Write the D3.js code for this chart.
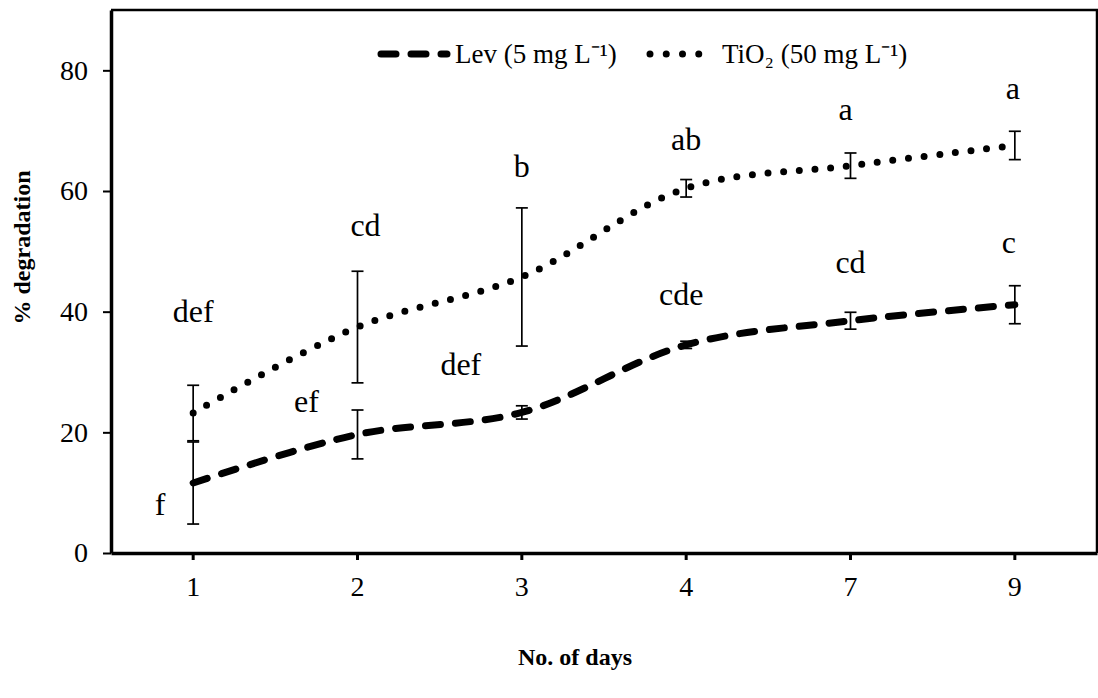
<!DOCTYPE html>
<html>
<head>
<meta charset="utf-8">
<script src="https://cdn.jsdelivr.net/npm/d3@7"></script>
<style>
  html, body { margin: 0; padding: 0; background: #fff; }
  svg { display: block; }
  text { font-family: "Liberation Serif", "Times New Roman", serif; fill: #000; }
</style>
</head>
<body>
<svg id="chart" width="1098" height="698"></svg>
<script>
// Sampling days (categorical axis)
const days = ["1", "2", "3", "4", "7", "9"];

// Mean % degradation and error bar half-widths
const levMean = [11.6, 19.65, 23.3, 34.5, 38.5, 41.15];
const levErr  = [6.8, 4.05, 1.1, 0.6, 1.4, 3.15];
const tioMean = [23.2, 37.45, 45.75, 60.45, 64.2, 67.55];
const tioErr  = [4.6, 9.25, 11.45, 1.45, 2.1, 2.35];

// Significance letters
const levLetters = ["f", "ef", "def", "cde", "cd", "c"];
const tioLetters = ["def", "cd", "b", "ab", "a", "a"];

// Y axis ticks
const yTicks = [0, 20, 40, 60, 80];

// Series names
const seriesNames = ["Lev (5 mg L\u207B\u00B9)", "TiO\u2082 (50 mg L\u207B\u00B9)"];

// ---- layout ----
const plot = { left: 111, right: 1097, top: 10, bottom: 553 };
// letter label offsets from their point, in px [dx, dy]
const levLabelOffset = [[-33, 32], [-51, -22], [-61, -37], [-5, -40], [0, -48], [-6, -52]];
const tioLabelOffset = [[0, -91], [8, -91], [0, -100], [0, -38], [-5, -46], [-2, -46]];

const svg = d3.select("#chart");

const xBand = d3.scaleBand().domain(days).range([plot.left, plot.right]);
const cx = d => xBand(d) + xBand.bandwidth() / 2;
const y = d3.scaleLinear().domain([0, 90]).range([plot.bottom, plot.top]);

// plot frame (top and right sides)
svg.append("path")
  .attr("d", `M${plot.left},${plot.top}H${plot.right}V${plot.bottom}`)
  .attr("fill", "none").attr("stroke", "#000").attr("stroke-width", 2.5);

// y axis
const yAxis = d3.axisLeft(y).tickValues(yTicks).tickSize(8).tickPadding(15).tickSizeOuter(0);
const gy = svg.append("g").attr("transform", `translate(${plot.left},0)`).call(yAxis);
gy.select(".domain").attr("stroke-width", 3.5);
gy.selectAll(".tick line").attr("stroke-width", 2);
gy.selectAll(".tick text").attr("font-size", 28).attr("font-family", "Liberation Serif, serif").attr("fill", "#000");

// x axis
const xAxis = d3.axisBottom(xBand).tickSize(7).tickPadding(16).tickSizeOuter(0);
const gx = svg.append("g").attr("transform", `translate(0,${plot.bottom})`).call(xAxis);
gx.select(".domain").attr("stroke-width", 3.5);
gx.selectAll(".tick line").attr("stroke-width", 3);
gx.selectAll(".tick text").attr("font-size", 28).attr("font-family", "Liberation Serif, serif").attr("fill", "#000");

// axis titles
svg.append("text")
  .attr("transform", `translate(30,${(plot.top + plot.bottom) / 2 - 34}) rotate(-90)`)
  .attr("text-anchor", "middle").attr("font-weight", "bold").attr("font-size", 24)
  .text("% degradation");
svg.append("text")
  .attr("x", 575).attr("y", 665)
  .attr("text-anchor", "middle").attr("font-weight", "bold").attr("font-size", 24)
  .text("No. of days");

// series lines
const line = d3.line().x((d, i) => cx(days[i])).y(d => y(d)).curve(d3.curveCatmullRom.alpha(0.5));

svg.append("path").datum(tioMean)
  .attr("d", line).attr("fill", "none").attr("stroke", "#000")
  .attr("stroke-width", 7).attr("stroke-linecap", "round").attr("stroke-dasharray", "0,15.7");

svg.append("path").datum(levMean)
  .attr("d", line).attr("fill", "none").attr("stroke", "#000")
  .attr("stroke-width", 7).attr("stroke-linecap", "round").attr("stroke-dasharray", "15,15");

// error bars
function errorBars(means, errs) {
  const g = svg.append("g").attr("stroke", "#000").attr("stroke-width", 1.7);
  means.forEach((m, i) => {
    const x0 = cx(days[i]);
    const y1 = y(m + errs[i]), y2 = y(m - errs[i]);
    g.append("line").attr("x1", x0).attr("x2", x0).attr("y1", y1).attr("y2", y2);
    g.append("line").attr("x1", x0 - 6).attr("x2", x0 + 6).attr("y1", y1).attr("y2", y1);
    g.append("line").attr("x1", x0 - 6).attr("x2", x0 + 6).attr("y1", y2).attr("y2", y2);
  });
}
errorBars(tioMean, tioErr);
errorBars(levMean, levErr);

// significance letters
function letters(means, labels, offsets) {
  svg.append("g").selectAll("text").data(labels).join("text")
    .attr("x", (d, i) => cx(days[i]) + offsets[i][0])
    .attr("y", (d, i) => y(means[i]) + offsets[i][1])
    .attr("text-anchor", "middle").attr("font-size", 32)
    .text(d => d);
}
letters(tioMean, tioLetters, tioLabelOffset);
letters(levMean, levLetters, levLabelOffset);

// legend
const legY = 54;
svg.append("line").attr("x1", 381).attr("x2", 447).attr("y1", legY).attr("y2", legY)
  .attr("stroke", "#000").attr("stroke-width", 7).attr("stroke-linecap", "round")
  .attr("stroke-dasharray", "15,15");
svg.append("text").attr("x", 455).attr("y", legY + 9).attr("font-size", 27).text(seriesNames[0]);
svg.append("line").attr("x1", 650).attr("x2", 715).attr("y1", legY).attr("y2", legY)
  .attr("stroke", "#000").attr("stroke-width", 7).attr("stroke-linecap", "round")
  .attr("stroke-dasharray", "0,16.25");
svg.append("text").attr("x", 722).attr("y", legY + 9).attr("font-size", 27).text(seriesNames[1]);
</script>
</body>
</html>
